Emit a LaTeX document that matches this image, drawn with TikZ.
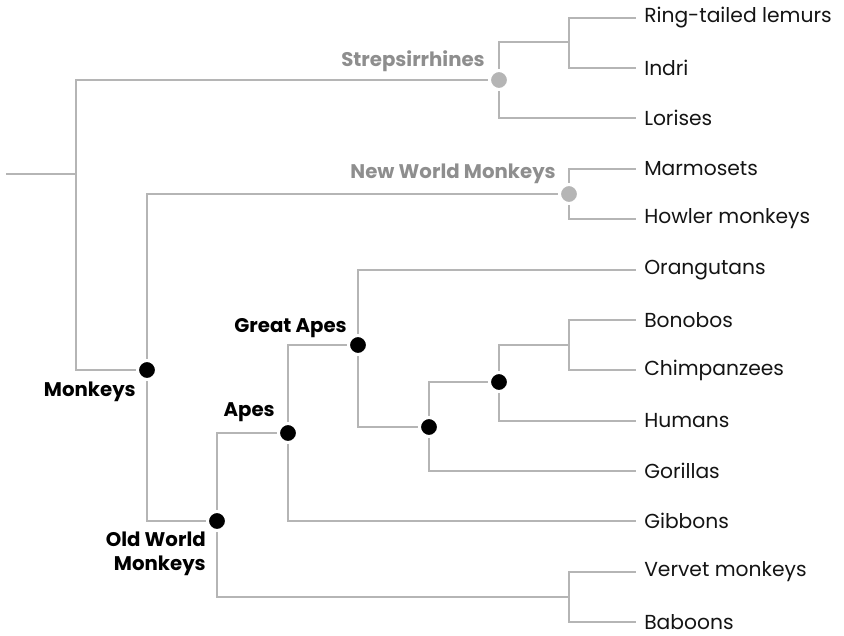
\documentclass[tikz,border=0pt]{standalone}
\usepackage{fontspec}
\setmainfont{Poppins}
\usetikzlibrary{backgrounds}
\definecolor{branchgray}{HTML}{B5B5B5}
\definecolor{labelgray}{HTML}{8E8E8E}
\definecolor{leafblack}{HTML}{141414}
\begin{document}
\begin{tikzpicture}[x=0.75pt,y=-0.75pt,
        branch/.style={draw=branchgray, line width=1.9pt},
        clade dot/.style={circle, fill=black, draw=white, line width=2.25pt,
            minimum size=14.25pt, inner sep=0pt},
        faded dot/.style={clade dot, fill=branchgray},
        leaf/.style={anchor=west, inner xsep=6pt, inner ysep=0pt, text=leafblack,
            font=\fontsize{15.2pt}{18pt}\selectfont},
        clade label/.style={inner sep=0pt, text=black,
            font=\fontsize{14.8pt}{18pt}\selectfont\bfseries},
        faded label/.style={clade label, text=labelgray}]
    \useasboundingbox (0,0) rectangle (844,636);
    % leaves
    \foreach \name/\ypos/\txt in {lemur/18/Ring-tailed lemurs, indri/68/Indri,
            loris/118/Lorises, marmoset/169/Marmosets, howler/219/Howler monkeys,
            orang/270/Orangutans, bonobo/320/Bonobos, chimp/370/Chimpanzees,
            human/421/Humans, gorilla/471/Gorillas, gibbon/521/Gibbons,
            vervet/572/Vervet monkeys, baboon/622/Baboons}
        \node[leaf] (\name) at (636,\ypos) {\txt};
    % branching points
    \coordinate (stem) at (6,174);
    \coordinate (root) at (76,174);
    \coordinate (lemind) at (569,42);
    \coordinate (pan) at (569,345);
    \coordinate (cercop) at (569,597);
    \node[faded dot] (strep) at (499,80) {};
    \node[faded dot] (nwm) at (569,194) {};
    \node[clade dot] (monkeys) at (147,370) {};
    \node[clade dot] (owm) at (217,521) {};
    \node[clade dot] (apes) at (288,433) {};
    \node[clade dot] (great) at (358,345) {};
    \node[clade dot] (hominin) at (429,427) {};
    \node[clade dot] (panhomo) at (499,382) {};
    % clade names
    \node[faded label, anchor=base east] (strep label) at ([shift={(-14,-14)}]strep.center) {Strepsirrhines};
    \node[faded label, anchor=base east] (nwm label) at ([shift={(-13,-16)}]nwm.center) {New World Monkeys};
    \node[clade label, anchor=base east] (monkeys label) at ([shift={(-11,26)}]monkeys.center) {Monkeys};
    \node[clade label, anchor=north east, align=right] (owm label) at ([shift={(-11,11)}]owm.center) {Old World\\Monkeys};
    \node[clade label, anchor=base east] (apes label) at ([shift={(-13,-17)}]apes.center) {Apes};
    \node[clade label, anchor=base east] (great label) at ([shift={(-11,-13)}]great.center) {Great Apes};
    \begin{scope}[on background layer]
        \draw[branch] (stem) -- (root);
        \foreach \from/\to in {root/strep, root/monkeys, strep/lemind,
                monkeys/nwm, monkeys/owm, owm/apes, owm/cercop,
                apes/great, great/hominin, hominin/panhomo, panhomo/pan}
            \draw[branch] (\from.center) |- (\to.center);
        \foreach \from/\to in {lemind/lemur, lemind/indri, strep/loris, nwm/marmoset,
                nwm/howler, cercop/vervet, cercop/baboon, apes/gibbon, great/orang,
                hominin/gorilla, panhomo/human, pan/bonobo, pan/chimp}
            \draw[branch] (\from.center) |- (\to.west);
    \end{scope}
\end{tikzpicture}
\end{document}
